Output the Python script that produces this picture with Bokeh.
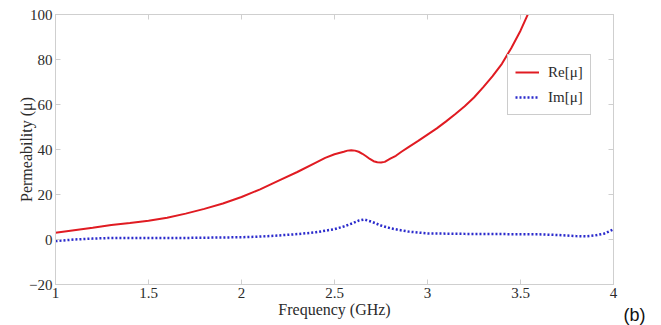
from bokeh.plotting import figure
from bokeh.models import (LinearAxis, FixedTicker, Range1d, Legend, LegendItem,
                          Title, CustomJSTickFormatter)
from bokeh.embed import file_html
from bokeh.resources import INLINE

# ---- data ----
freq_re = [1.0, 1.1, 1.2, 1.3, 1.4, 1.5, 1.6, 1.7, 1.8, 1.9, 2.0, 2.1, 2.2, 2.3,
           2.4, 2.45, 2.5, 2.55, 2.57, 2.59, 2.61, 2.63, 2.65, 2.67, 2.69, 2.71,
           2.73, 2.75, 2.77, 2.8, 2.83, 2.86, 2.9, 2.95, 3.0, 3.05, 3.1, 3.15,
           3.2, 3.25, 3.3, 3.35, 3.4, 3.45, 3.5, 3.55]
re_mu = [3.0, 4.1, 5.2, 6.4, 7.3, 8.3, 9.7, 11.5, 13.6, 16.0, 18.9, 22.3, 26.2, 30.0,
         34.2, 36.3, 37.9, 39.0, 39.5, 39.7, 39.5, 39.0, 38.1, 37.0, 35.8, 34.8,
         34.3, 34.2, 34.5, 35.9, 37.2, 39.0, 41.2, 43.8, 46.6, 49.4, 52.5, 55.8,
         59.2, 63.1, 67.7, 72.6, 78.1, 85.0, 92.8, 102.0]

freq_im = [1.0, 1.1, 1.2, 1.3, 1.5, 1.7, 1.9, 2.0, 2.1, 2.2, 2.3, 2.4, 2.5, 2.55,
           2.6, 2.63, 2.66, 2.7, 2.75, 2.8, 2.85, 2.9, 3.0, 3.2, 3.4, 3.6, 3.7,
           3.8, 3.85, 3.9, 3.95, 4.0]
im_mu = [-0.7, 0.0, 0.4, 0.7, 0.7, 0.7, 0.9, 1.0, 1.3, 1.8, 2.4, 3.2, 4.6, 5.8,
         7.3, 8.4, 8.9, 7.9, 6.2, 5.0, 4.2, 3.5, 2.7, 2.5, 2.4, 2.3, 2.0,
         1.5, 1.4, 1.8, 2.6, 4.5]

x_ticks = [1, 1.5, 2, 2.5, 3, 3.5, 4]
y_ticks = [-20, 0, 20, 40, 60, 80, 100]
series_labels = ["Re[\u03bc]", "Im[\u03bc]"]
panel_tag = "(b)"

SERIF = "Liberation Serif"
FRAME_GRAY = "#cfcfcf"
TEXT = "#2b2b2b"

p = figure(width=661, height=325, output_backend="svg", toolbar_location=None,
           x_range=Range1d(1, 4), y_range=Range1d(-20, 100),
           min_border_left=55, min_border_right=48, min_border_top=14,
           min_border_bottom=41, x_axis_label="Frequency (GHz)",
           y_axis_label="Permeability (\u03bc)")
p.xgrid.visible = False
p.ygrid.visible = False
p.outline_line_color = FRAME_GRAY
p.background_fill_color = "white"
p.border_fill_color = "white"

p.xaxis.ticker = FixedTicker(ticks=x_ticks)
p.yaxis.ticker = FixedTicker(ticks=y_ticks)
p.xaxis.formatter = CustomJSTickFormatter(code="return String(tick);")

for ax in [p.xaxis[0], p.yaxis[0]]:
    ax.axis_line_color = FRAME_GRAY
    ax.major_tick_line_color = FRAME_GRAY
    ax.major_tick_in = 5
    ax.major_tick_out = 0
    ax.minor_tick_line_color = None
    ax.major_label_text_font = SERIF
    ax.major_label_text_font_size = "15px"
    ax.major_label_text_color = TEXT
    ax.axis_label_text_font = SERIF
    ax.axis_label_text_font_size = "16px"
    ax.axis_label_text_font_style = "normal"
    ax.axis_label_text_color = TEXT
    ax.major_label_standoff = 3

p.xaxis.axis_label_standoff = 0
p.yaxis.axis_label_standoff = -9

# mirrored axes on top and right (ticks only, no labels)
top = LinearAxis(ticker=FixedTicker(ticks=x_ticks))
right = LinearAxis(ticker=FixedTicker(ticks=y_ticks))
for ax in [top, right]:
    ax.axis_line_color = FRAME_GRAY
    ax.major_tick_line_color = FRAME_GRAY
    ax.major_tick_in = 5
    ax.major_tick_out = 0
    ax.minor_tick_line_color = None
    ax.major_label_text_font_size = "1px"
    ax.major_label_text_alpha = 0
    ax.major_label_standoff = 0
p.add_layout(top, "above")
p.add_layout(right, "right")

r_re = p.line(freq_re, re_mu, line_color="#e01b22", line_width=2)
r_im = p.line(freq_im, im_mu, line_color="#2b2bcc", line_width=2.5,
              line_dash="2 2")

legend = Legend(items=[LegendItem(label=series_labels[0], renderers=[r_re]),
                       LegendItem(label=series_labels[1], renderers=[r_im])],
                location=(452, 169))
legend.label_text_font = SERIF
legend.label_text_font_size = "15px"
legend.label_text_color = TEXT
legend.border_line_color = "#9a9a9a"
legend.border_line_width = 1
legend.background_fill_color = "white"
legend.background_fill_alpha = 1
legend.glyph_width = 24
legend.glyph_height = 20
legend.label_height = 20
legend.padding = 7
legend.spacing = 5
legend.label_standoff = 9
legend.margin = 0
p.add_layout(legend)

# panel tag "(b)" at bottom-right, as a below-title (side panels are not clipped)
tag = Title(text=panel_tag, align="right", vertical_align="top",
            offset=-32, standoff=-32, text_font="Liberation Sans",
            text_font_size="18px", text_font_style="normal",
            text_color="#111111")
p.add_layout(tag, "below")

open("out.html", "w").write(file_html(p, INLINE))
